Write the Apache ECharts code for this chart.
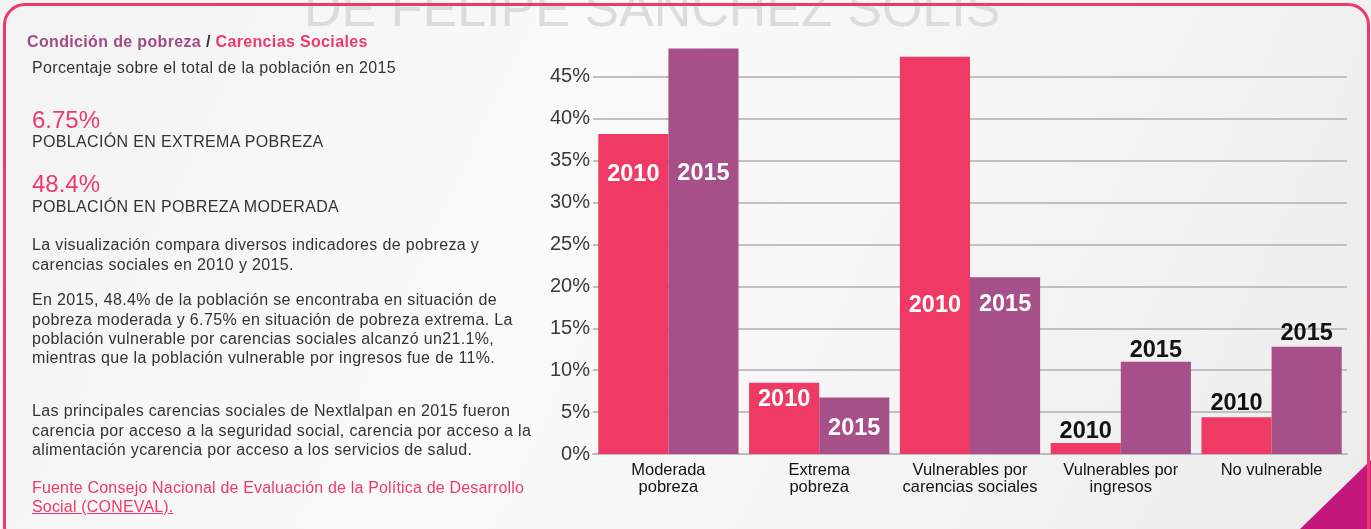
<!DOCTYPE html>
<html>
<head>
<meta charset="utf-8">
<script src="https://cdn.jsdelivr.net/npm/echarts@6/dist/echarts.min.js"></script>
<style>
  html, body { margin: 0; padding: 0; }
  body { width: 1371px; height: 529px; overflow: hidden; font-family: "Liberation Sans", Arial, sans-serif; }
  #page {
    position: relative; width: 1371px; height: 529px; overflow: hidden;
    background: linear-gradient(115deg, #f3f3f3 0%, #fafafa 40%, #f4f4f4 70%, #ececec 100%);
  }
  #frame {
    position: absolute; left: 3px; top: 3px; width: 1361px; height: 540px;
    border: 3px solid #ee3a6a; border-radius: 22px; pointer-events: none;
  }
  #chart { position: absolute; left: 0; top: 0; width: 1371px; height: 529px; }
  .t { position: absolute; left: 32px; white-space: nowrap; color: #333; font-size: 16px; line-height: 16px; letter-spacing: 0.35px; }
  .big { color: #ee3a6a; font-size: 24px; line-height: 24px; letter-spacing: 0; }
  .src { color: #ee3a6a; letter-spacing: 0.18px; }
</style>
</head>
<body>
<div id="page">
  <div id="chart"></div>
  <div class="t" style="left:27px;top:34px;font-weight:bold;"><span style="color:#a34a84">Condición de pobreza</span> / <span style="color:#ee3a6a">Carencias Sociales</span></div>
  <div class="t" style="top:60px">Porcentaje sobre el total de la población en 2015</div>
  <div class="t big" style="top:108px">6.75%</div>
  <div class="t" style="top:134px">POBLACIÓN EN EXTREMA POBREZA</div>
  <div class="t big" style="top:172px">48.4%</div>
  <div class="t" style="top:199px">POBLACIÓN EN POBREZA MODERADA</div>
  <div class="t" style="top:237px">La visualización compara diversos indicadores de pobreza y</div>
  <div class="t" style="top:257px">carencias sociales en 2010 y 2015.</div>
  <div class="t" style="top:292px">En 2015, 48.4% de la población se encontraba en situación de</div>
  <div class="t" style="top:312px">pobreza moderada y 6.75% en situación de pobreza extrema. La</div>
  <div class="t" style="top:331px">población vulnerable por carencias sociales alcanzó un21.1%,</div>
  <div class="t" style="top:350px">mientras que la población vulnerable por ingresos fue de 11%.</div>
  <div class="t" style="top:403px">Las principales carencias sociales de Nextlalpan en 2015 fueron</div>
  <div class="t" style="top:423px">carencia por acceso a la seguridad social, carencia por acceso a la</div>
  <div class="t" style="top:442px">alimentación ycarencia por acceso a los servicios de salud.</div>
  <div class="t src" style="top:480px">Fuente Consejo Nacional de Evaluación de la Política de Desarrollo</div>
  <div class="t src" style="top:499px;text-decoration:underline">Social (CONEVAL).</div>
  <div id="frame"></div>
</div>
<script>
// datos (porcentaje de la población)
var categories = ['Moderada\npobreza', 'Extrema\npobreza', 'Vulnerables por\ncarencias sociales', 'Vulnerables por\ningresos', 'No vulnerable'];
var years = ['2010', '2015'];
var values2010 = [38.2, 8.5, 47.4, 1.3, 4.4];
var values2015 = [48.4, 6.75, 21.1, 11.0, 12.8];
var yMax = 50;
var yStep = 5;

// where each year label sits on its bar
var labels2010 = [['insideTop', 29], ['insideTop', 5], ['insideTop', 237], ['top', 0], ['top', 2]];
var labels2015 = [['insideTop', 113], ['insideTop', 19], ['insideTop', 15], ['top', -1], ['top', 1]];

var chart = echarts.init(document.getElementById('chart'));

function buildData(values, placing) {
  return values.map(function (v, i) {
    var inside = placing[i][0] !== 'top';
    return {
      value: v,
      label: {
        position: placing[i][0],
        distance: placing[i][1],
        color: inside ? '#fff' : '#111'
      }
    };
  });
}

// grid line colours, the top one (50%) is not drawn
var gridColors = [];
for (var k = 0; k <= yMax / yStep; k++) {
  gridColors.push(k === yMax / yStep ? 'rgba(0,0,0,0)' : '#c0c0c0');
}

var option = {
  animation: false,
  textStyle: { fontFamily: 'Liberation Sans' },
  graphic: [
    {
      type: 'text', left: 304, top: -14, z: -1,
      style: { text: 'DE FELIPE SANCHEZ SOLIS', fill: '#dcdcdc', font: '52px "Liberation Sans"' }
    },
    {
      type: 'polygon', z: 10,
      shape: { points: [[1300, 529], [1371, 460], [1371, 529]] },
      style: { fill: '#c4177c' }
    }
  ],
  grid: { left: 593, right: 24, top: 35, bottom: 75 },
  xAxis: {
    type: 'category',
    data: categories,
    axisTick: { show: false },
    axisLine: { lineStyle: { color: '#bbbbbb', width: 2 } },
    axisLabel: { interval: 0, color: '#111', fontSize: 16.5, lineHeight: 17, margin: 8 }
  },
  yAxis: {
    type: 'value',
    min: 0,
    max: yMax,
    interval: yStep,
    axisLine: { show: false },
    axisTick: { show: false },
    axisLabel: {
      color: '#3a3a3a', fontSize: 20, margin: 3,
      formatter: function (v) { return v === yMax ? '' : v + '%'; }
    },
    splitLine: { lineStyle: { color: gridColors, width: 2 } }
  },
  series: [
    {
      name: years[0], type: 'bar', barGap: '0%', barCategoryGap: '7%',
      itemStyle: { color: '#ee3a65' },
      label: { show: true, formatter: '{a}', fontSize: 23.5, fontWeight: 'bold' },
      data: buildData(values2010, labels2010)
    },
    {
      name: years[1], type: 'bar',
      itemStyle: { color: '#a74f89' },
      label: { show: true, formatter: '{a}', fontSize: 23.5, fontWeight: 'bold' },
      data: buildData(values2015, labels2015)
    }
  ]
};
chart.setOption(option);
</script>
</body>
</html>
